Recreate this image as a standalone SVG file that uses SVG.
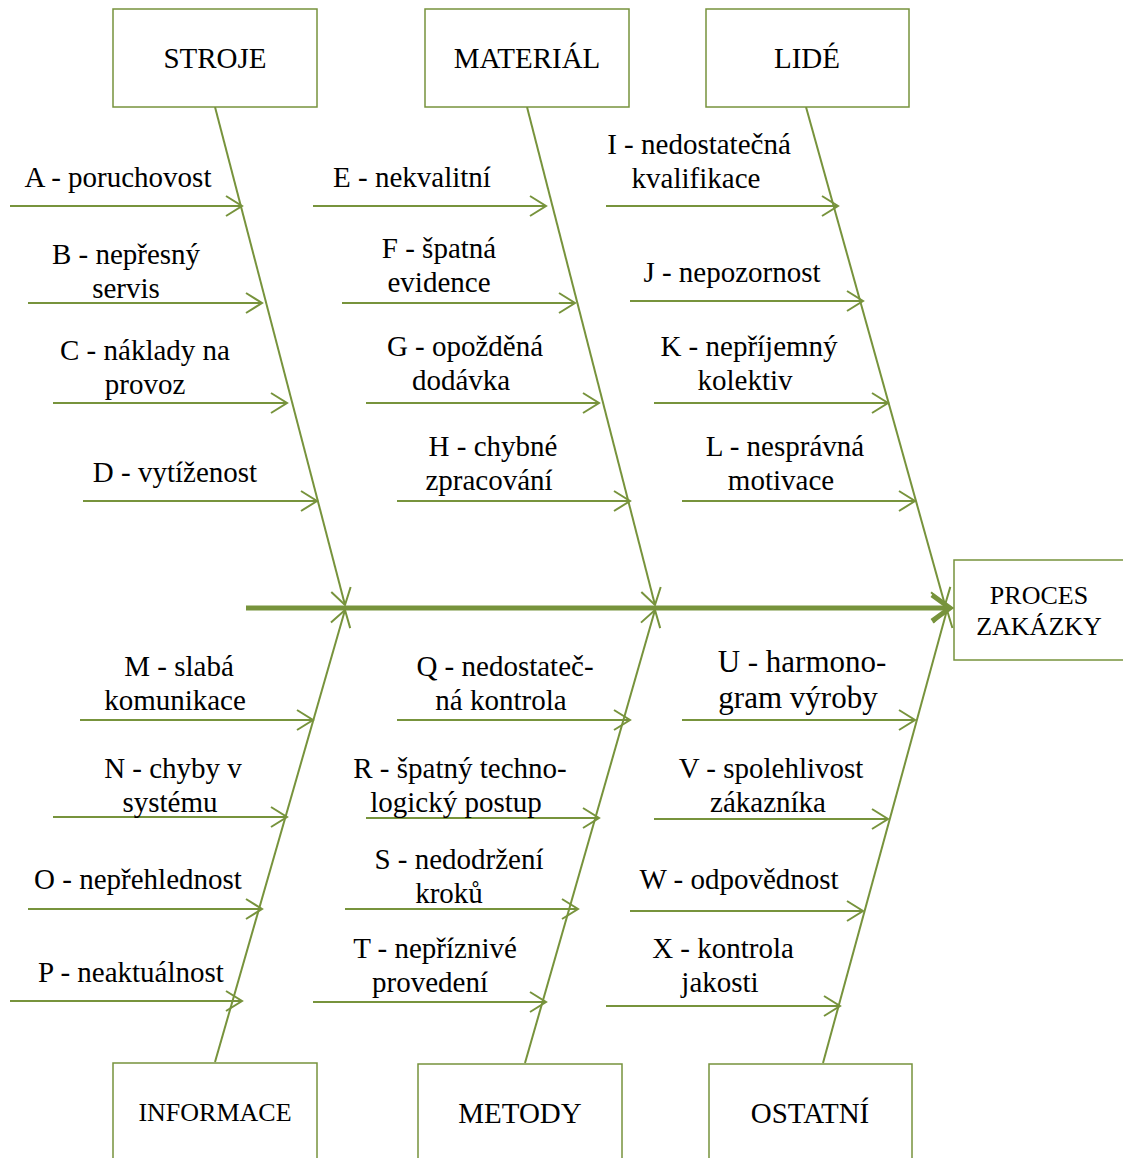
<svg xmlns="http://www.w3.org/2000/svg" width="1123" height="1158" viewBox="0 0 1123 1158">
<style>
.box{fill:#fff;stroke:#77933C;stroke-width:1.5}
.ln{stroke:#77933C;stroke-width:2;fill:none}
.t{font-family:"Liberation Serif","Times New Roman",serif;font-size:29px;fill:#000;text-anchor:middle}
.bt{font-family:"Liberation Serif","Times New Roman",serif;font-size:29px;fill:#000;text-anchor:middle}
</style>
<defs>
<marker id="ah" markerUnits="userSpaceOnUse" markerWidth="40" markerHeight="40" viewBox="-20 -20 40 40" refX="0" refY="0" orient="auto">
<path d="M-16,-10 L0,0 L-16,10" fill="none" stroke="#77933C" stroke-width="2"/>
</marker>
<marker id="ahb" markerUnits="userSpaceOnUse" markerWidth="50" markerHeight="50" viewBox="-25 -25 50 50" refX="0" refY="0" orient="auto">
<path d="M-18,-13 L0,0 L-18,13" fill="none" stroke="#77933C" stroke-width="5"/>
</marker>
</defs>
<g id="connectors">
<line class="ln" x1="215" y1="107" x2="345" y2="605" marker-end="url(#ah)"/>
<line class="ln" x1="527" y1="107" x2="655" y2="605" marker-end="url(#ah)"/>
<line class="ln" x1="806" y1="107" x2="945" y2="605" marker-end="url(#ah)"/>
<line class="ln" x1="215" y1="1062" x2="345" y2="610" marker-end="url(#ah)"/>
<line class="ln" x1="525" y1="1063" x2="655" y2="610" marker-end="url(#ah)"/>
<line class="ln" x1="823" y1="1063" x2="947" y2="610" marker-end="url(#ah)"/>
<line x1="246" y1="608" x2="950" y2="608" stroke="#77933C" stroke-width="5" marker-end="url(#ahb)"/>
<line class="ln" x1="10" y1="206" x2="242" y2="206" marker-end="url(#ah)"/>
<line class="ln" x1="28" y1="303" x2="262" y2="303" marker-end="url(#ah)"/>
<line class="ln" x1="53" y1="403" x2="287" y2="403" marker-end="url(#ah)"/>
<line class="ln" x1="83" y1="501" x2="317" y2="501" marker-end="url(#ah)"/>
<line class="ln" x1="313" y1="206" x2="546" y2="206" marker-end="url(#ah)"/>
<line class="ln" x1="342" y1="303" x2="575" y2="303" marker-end="url(#ah)"/>
<line class="ln" x1="366" y1="403" x2="599" y2="403" marker-end="url(#ah)"/>
<line class="ln" x1="397" y1="501" x2="630" y2="501" marker-end="url(#ah)"/>
<line class="ln" x1="606" y1="206" x2="838" y2="206" marker-end="url(#ah)"/>
<line class="ln" x1="630" y1="301" x2="863" y2="301" marker-end="url(#ah)"/>
<line class="ln" x1="654" y1="403" x2="888" y2="403" marker-end="url(#ah)"/>
<line class="ln" x1="682" y1="501" x2="915" y2="501" marker-end="url(#ah)"/>
<line class="ln" x1="80" y1="720" x2="313" y2="720" marker-end="url(#ah)"/>
<line class="ln" x1="53" y1="817" x2="287" y2="817" marker-end="url(#ah)"/>
<line class="ln" x1="28" y1="909" x2="262" y2="909" marker-end="url(#ah)"/>
<line class="ln" x1="10" y1="1001" x2="242" y2="1001" marker-end="url(#ah)"/>
<line class="ln" x1="397" y1="720" x2="630" y2="720" marker-end="url(#ah)"/>
<line class="ln" x1="366" y1="818" x2="599" y2="818" marker-end="url(#ah)"/>
<line class="ln" x1="345" y1="909" x2="578" y2="909" marker-end="url(#ah)"/>
<line class="ln" x1="313" y1="1002" x2="546" y2="1002" marker-end="url(#ah)"/>
<line class="ln" x1="682" y1="720" x2="915" y2="720" marker-end="url(#ah)"/>
<line class="ln" x1="654" y1="819" x2="888" y2="819" marker-end="url(#ah)"/>
<line class="ln" x1="630" y1="911" x2="863" y2="911" marker-end="url(#ah)"/>
<line class="ln" x1="606" y1="1006" x2="840" y2="1006" marker-end="url(#ah)"/>
</g>
<g id="stroje"><rect class="box" x="113" y="9" width="204" height="98"/><text class="bt" x="215" y="68">STROJE</text></g>
<g id="material"><rect class="box" x="425" y="9" width="204" height="98"/><text class="bt" x="527" y="68">MATERIÁL</text></g>
<g id="lide"><rect class="box" x="706" y="9" width="203" height="98"/><text class="bt" x="807" y="68">LIDÉ</text></g>
<g id="proces"><rect class="box" x="954" y="560" width="175" height="100"/><text class="bt" style="font-size:26px" x="1039" y="604">PROCES</text><text class="bt" style="font-size:26px" x="1039" y="635">ZAKÁZKY</text></g>
<g id="informace"><rect class="box" x="113" y="1063" width="204" height="110"/><text class="bt" style="font-size:26px" x="215" y="1121">INFORMACE</text></g>
<g id="metody"><rect class="box" x="418" y="1064" width="204" height="110"/><text class="bt" x="520" y="1123">METODY</text></g>
<g id="ostatni"><rect class="box" x="709" y="1064" width="203" height="110"/><text class="bt" x="810" y="1123">OSTATNÍ</text></g>
<g id="labels">
<g id="A"><text class="t" x="118" y="187">A - poruchovost</text></g>
<g id="B"><text class="t" x="126" y="264">B - nepřesný</text><text class="t" x="126" y="298">servis</text></g>
<g id="C"><text class="t" x="145" y="360">C - náklady na</text><text class="t" x="145" y="394">provoz</text></g>
<g id="D"><text class="t" x="175" y="482">D - vytíženost</text></g>
<g id="E"><text class="t" x="412" y="187">E - nekvalitní</text></g>
<g id="F"><text class="t" x="439" y="258">F - špatná</text><text class="t" x="439" y="292">evidence</text></g>
<g id="G"><text class="t" x="465" y="356">G - opožděná</text><text class="t" x="461" y="390">dodávka</text></g>
<g id="H"><text class="t" x="493" y="456">H - chybné</text><text class="t" x="489" y="490">zpracování</text></g>
<g id="I"><text class="t" x="699" y="154">I - nedostatečná</text><text class="t" x="696" y="188">kvalifikace</text></g>
<g id="J"><text class="t" x="732" y="282">J - nepozornost</text></g>
<g id="K"><text class="t" x="749" y="356">K - nepříjemný</text><text class="t" x="745" y="390">kolektiv</text></g>
<g id="L"><text class="t" x="785" y="456">L - nesprávná</text><text class="t" x="781" y="490">motivace</text></g>
<g id="M"><text class="t" x="179" y="676">M - slabá</text><text class="t" x="175" y="710">komunikace</text></g>
<g id="N"><text class="t" x="173" y="778">N - chyby v</text><text class="t" x="170" y="812">systému</text></g>
<g id="O"><text class="t" x="138" y="889">O - nepřehlednost</text></g>
<g id="P"><text class="t" x="131" y="982">P - neaktuálnost</text></g>
<g id="Q"><text class="t" x="505" y="676">Q - nedostateč-</text><text class="t" x="501" y="710">ná kontrola</text></g>
<g id="R"><text class="t" x="460" y="778">R - špatný techno-</text><text class="t" x="456" y="812">logický postup</text></g>
<g id="S"><text class="t" x="459" y="869">S - nedodržení</text><text class="t" x="449" y="903">kroků</text></g>
<g id="T"><text class="t" x="435" y="958">T - nepříznivé</text><text class="t" x="430" y="992">provedení</text></g>
<g id="U"><text class="t" style="font-size:31px" x="802" y="672">U - harmono-</text><text class="t" style="font-size:31px" x="798" y="708">gram výroby</text></g>
<g id="V"><text class="t" x="771" y="778">V - spolehlivost</text><text class="t" x="768" y="812">zákazníka</text></g>
<g id="W"><text class="t" x="739" y="889">W - odpovědnost</text></g>
<g id="X"><text class="t" x="723" y="958">X - kontrola</text><text class="t" x="720" y="992">jakosti</text></g>
</g>
</svg>
